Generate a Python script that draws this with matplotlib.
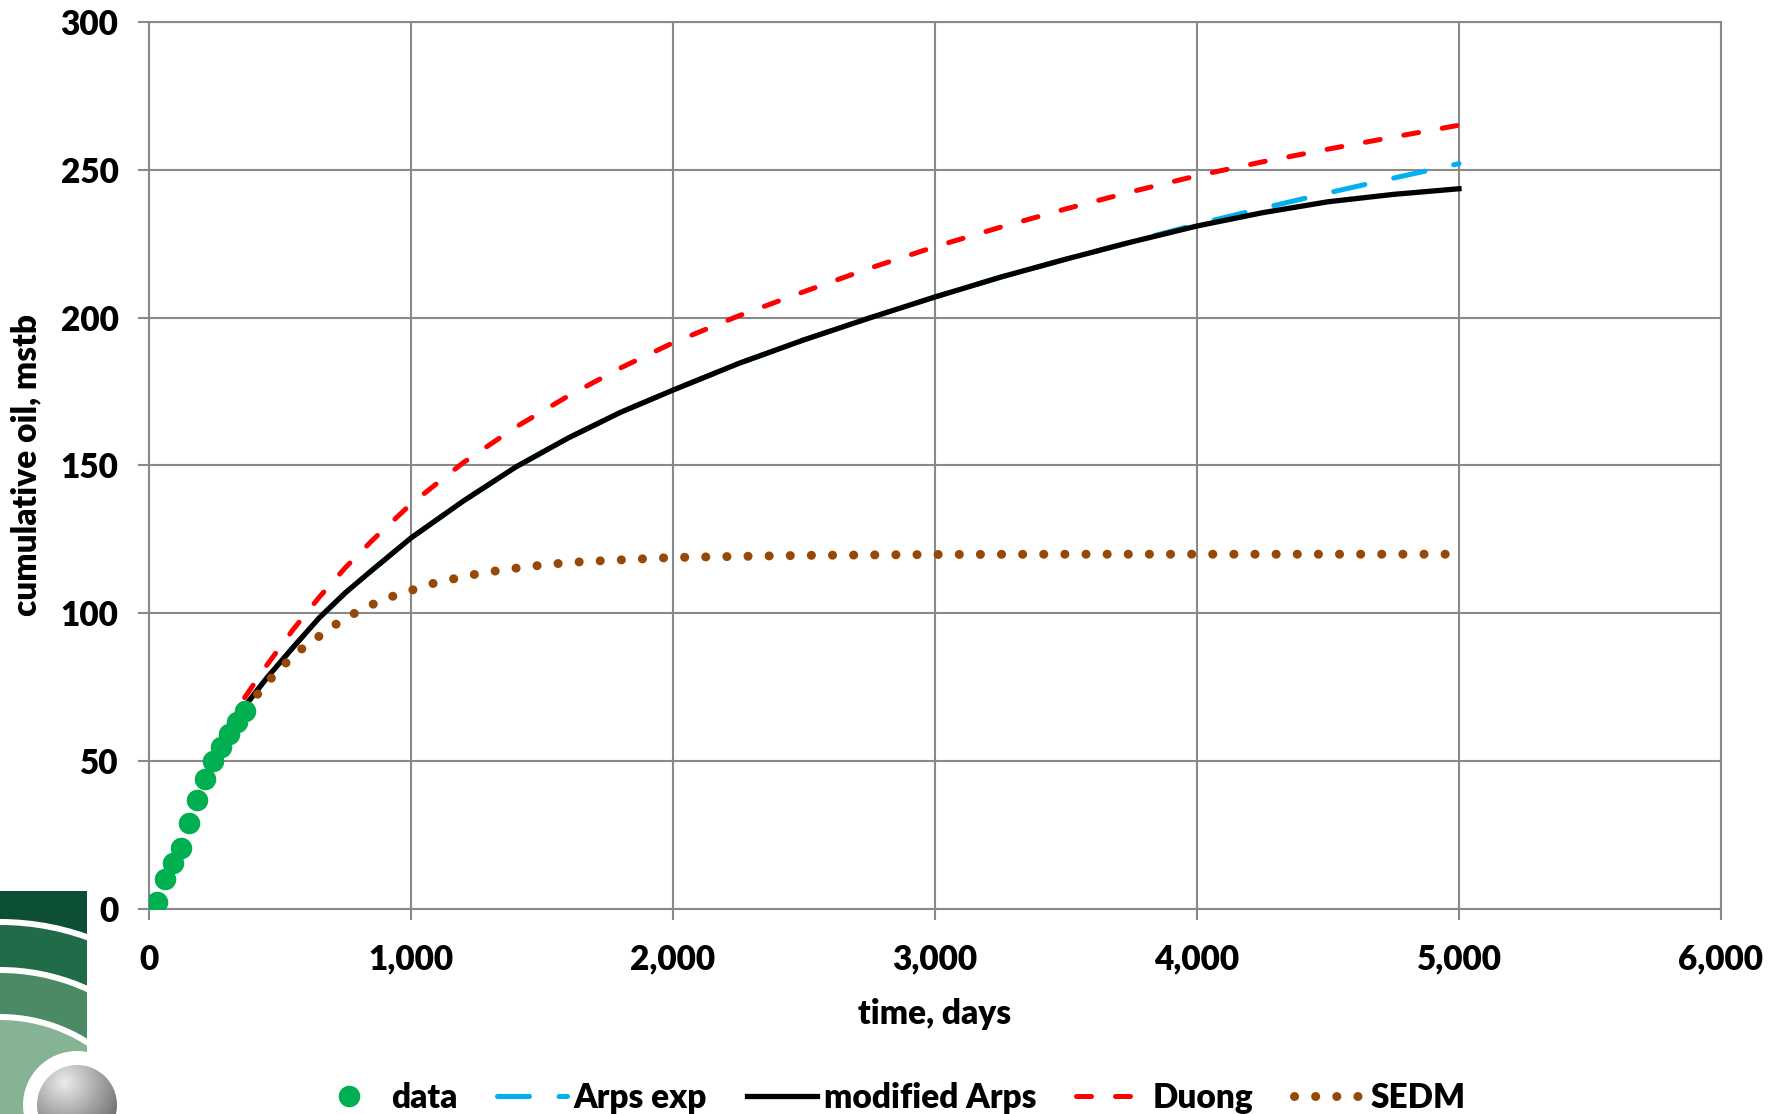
import numpy as np
import matplotlib
matplotlib.use("Agg")
import matplotlib.pyplot as plt
from matplotlib.patches import Circle, Rectangle
from matplotlib.ticker import FuncFormatter, MultipleLocator

# measured production data (days, mstb)
data_t = [30, 61, 91, 122, 152, 183, 213, 244, 274, 305, 335, 365]
data_q = [2.5, 10.1, 15.5, 20.5, 29.0, 36.9, 44.0, 50.0, 54.7, 59.1, 63.1, 67.1]

# forecast curves
model_t = [365, 450, 550, 650, 750, 850, 1000, 1200, 1400, 1600, 1800, 2000, 2250,
           2500, 2750, 3000, 3250, 3500, 3750, 4000, 4250, 4500, 4750, 5000]
mod_arps = [68.5, 78.2, 88.5, 98.5, 107.0, 114.5, 125.5, 138.0, 149.5, 159.3, 168.0, 175.5, 184.5,
            192.5, 199.9, 207.0, 213.7, 219.8, 225.6, 231.0, 235.5, 239.2, 241.7, 243.6]
arps_exp = [68.5, 78.2, 88.5, 98.5, 107.0, 114.5, 125.5, 138.0, 149.5, 159.3, 168.0, 175.5, 184.5,
            192.5, 199.9, 207.0, 213.7, 219.8, 225.7, 231.6, 237.0, 242.2, 247.2, 252.1]
duong = [71.5, 82.5, 94.5, 105.5, 115.5, 124.5, 137.0, 151.0, 163.0, 173.5, 183.0, 191.5, 200.6,
         208.8, 216.7, 224.0, 230.6, 236.8, 242.6, 248.0, 252.7, 257.0, 261.1, 265.1]

sedm_t = [365, 420, 470, 525, 590, 655, 720, 790, 865, 940, 1020, 1095, 1175,
          1255, 1335, 1420, 1500, 1580, 1660, 2000, 2500, 3000, 3500, 4000, 4500, 4990]
sedm = [67.0, 73.3, 78.4, 83.4, 88.5, 92.6, 96.7, 100.3, 103.5, 106.1, 108.3, 110.4, 111.9,
        113.4, 114.5, 115.5, 116.3, 117.0, 117.5, 118.9, 119.6, 119.9, 120.0, 120.0, 120.0, 120.0]

plt.rcParams['font.family'] = ['Lato', 'DejaVu Sans']
plt.rcParams['font.weight'] = 'heavy'
plt.rcParams['axes.labelweight'] = 'heavy'

W, H = 1783, 1114
fig = plt.figure(figsize=(W / 100, H / 100), dpi=100)
ax = fig.add_axes([149 / W, 1 - 909 / H, (1721 - 149) / W, (909 - 22) / H])

grey = '#898989'
ax.plot(data_t, data_q, 'o', color='#00b050', ms=14.5, ls='none', label='data', zorder=6)
ax.plot(model_t, arps_exp, color='#00b0f0', lw=3.6, ls=(0, (6.4, 5.9)),
        dash_capstyle='round', label='Arps exp', zorder=3)
ax.plot(model_t, mod_arps, color='black', lw=3.8, label='modified Arps', zorder=4)
ax.plot(model_t, duong, color='#ff0000', lw=3.6, ls=(0, (3.0, 4.8)),
        dash_capstyle='round', label='Duong', zorder=5)
ax.plot(sedm_t, sedm, color='#974806', lw=6.5, ls=(0, (0.01, 2.33)),
        dash_capstyle='round', label='SEDM', zorder=4)

ax.set_xlim(0, 6000)
ax.set_ylim(0, 300)
ax.xaxis.set_major_locator(MultipleLocator(1000))
ax.yaxis.set_major_locator(MultipleLocator(50))
ax.xaxis.set_major_formatter(FuncFormatter(lambda v, p: f'{int(v):,}'))
ax.grid(True, color=grey, lw=1.5)
ax.set_axisbelow(True)
for s in ax.spines.values():
    s.set_color(grey)
    s.set_linewidth(1.5)
ax.tick_params(axis='both', length=8, width=1.5, color=grey, pad=14, labelsize=24)
ax.tick_params(axis='x', pad=17)
ax.set_xlabel('time, days', fontsize=24, labelpad=16)
ax.set_ylabel('cumulative oil, mstb', fontsize=24, labelpad=13)

fig.legend(loc='lower center', bbox_to_anchor=(0.499, -0.027), ncol=5, frameon=False,
           handlelength=2.1, handletextpad=0.2, columnspacing=1.2,
           prop={'size': 24, 'weight': 'heavy'})

# logo, bottom left
lg = fig.add_axes([0, 0, 130 / W, 223 / H])
lg.set_xlim(0, 130)
lg.set_ylim(1114, 891)
lg.set_axis_off()
box = Rectangle((0, 891), 87, 223, facecolor='#0c4f34', edgecolor='none')
lg.add_patch(box)
bands = [(261, 'white'), (255, '#216b48'), (213, 'white'), (207, '#4b8a65'),
         (166, 'white'), (160, '#86b394')]
for r, c in bands:
    p = Circle((0, 1180), r, facecolor=c, edgecolor='none')
    lg.add_patch(p)
    p.set_clip_path(box)
ring = Circle((77, 1105), 54, facecolor='white', edgecolor='none')
lg.add_patch(ring)
ring.set_clip_path(box)
yy, xx = np.mgrid[1065:1145:200j, 37:117:200j]
d = np.hypot(xx - 65, yy - 1082) / 70
shade = np.clip(0.92 - 0.55 * d, 0.25, 0.95)
im = lg.imshow(shade, cmap='gray', vmin=0, vmax=1, extent=(37, 117, 1145, 1065),
               interpolation='bilinear', zorder=3)
im.set_clip_path(Circle((77, 1105), 40, transform=lg.transData))
lg.add_patch(Circle((65, 1085), 3, facecolor='#e8e8e8', edgecolor='none', zorder=4))

fig.savefig('out.png', dpi=100)
